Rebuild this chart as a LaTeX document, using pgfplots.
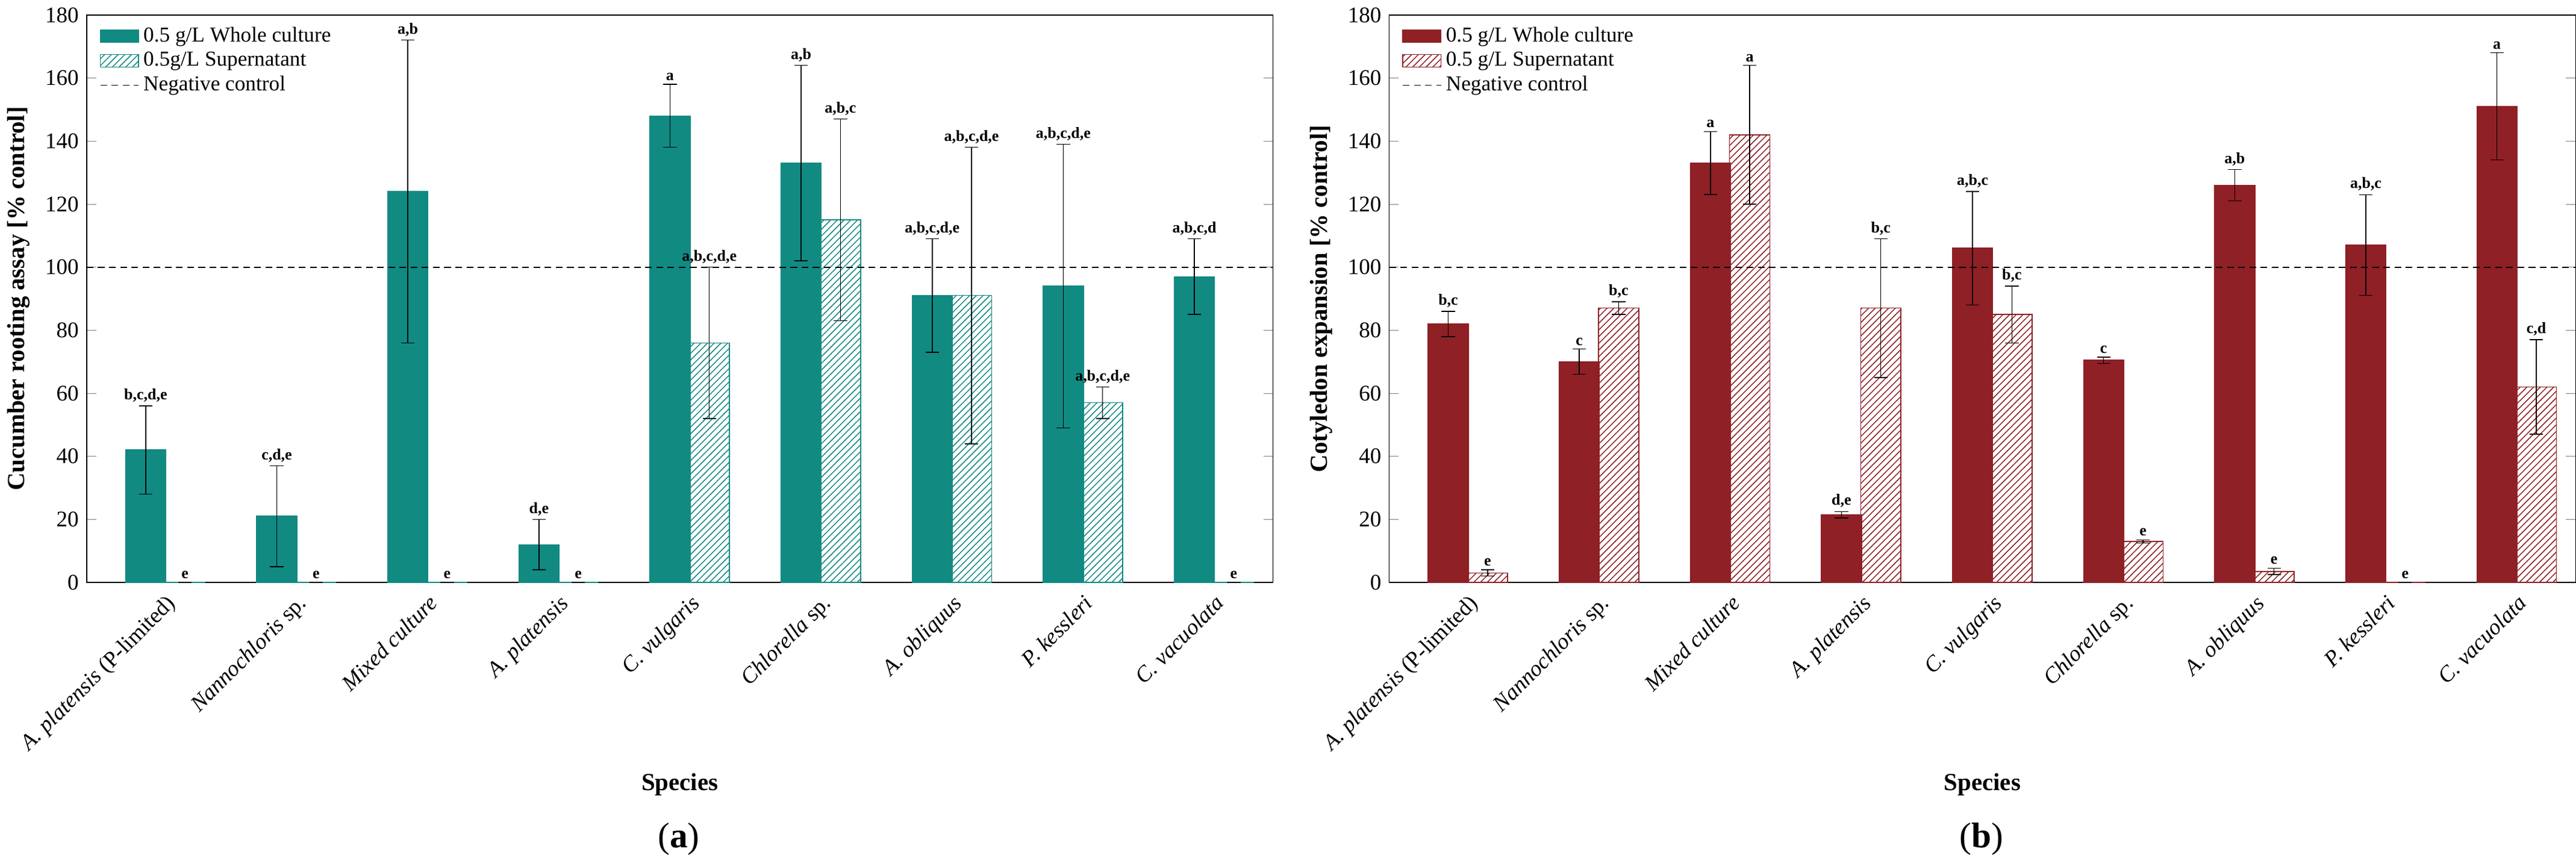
\documentclass[border=0pt]{standalone}
\usepackage{pgfplots}
\pgfplotsset{compat=1.18}
\usepackage{pgfplotstable}
\usetikzlibrary{patterns}
\usepackage{fontspec}
\setmainfont{Liberation Serif}
\definecolor{teal1}{RGB}{17,138,130}
\definecolor{dred}{RGB}{142,32,38}
\pgfplotstableread{
x y e top lab
-0.15 42 14 56 b,c,d,e
0.85 21 16 37 c,d,e
1.85 124 48 172 a,b
2.85 12 8 20 d,e
3.85 148 10 158 a
4.85 133 31 164 a,b
5.85 91 18 109 a,b,c,d,e
6.85 94 45 139 a,b,c,d,e
7.85 97 12 109 a,b,c,d
}\LW
\pgfplotstableread{
x y e top lab
0.15 0 0 0 e
1.15 0 0 0 e
2.15 0 0 0 e
3.15 0 0 0 e
4.15 76 24 100 a,b,c,d,e
5.15 115 32 147 a,b,c
6.15 91 47 138 a,b,c,d,e
7.15 57 5 62 a,b,c,d,e
8.15 0 0 0 e
}\LS
\pgfplotstableread{
x y e top lab
-0.15 82 4 86 b,c
0.85 70 4 74 c
1.85 133 10 143 a
2.85 21.5 1 22.5 d,e
3.85 106 18 124 a,b,c
4.85 70.5 1 71.5 c
5.85 126 5 131 a,b
6.85 107 16 123 a,b,c
7.85 151 17 168 a
}\RW
\pgfplotstableread{
x y e top lab
0.15 3 1 4 e
1.15 87 2 89 b,c
2.15 142 22 164 a
3.15 87 22 109 b,c
4.15 85 9 94 b,c
5.15 13 0.5 13.5 e
6.15 3.5 1 4.5 e
7.15 0 0 0 e
8.15 62 15 77 c,d
}\RS
\pgfplotsset{
 myax/.style={width=531pt,height=254pt,scale only axis,
  ymin=0,ymax=180,ytick={0,20,...,180},xmin=-0.6,xmax=8.45,
  xtick={0,...,8},
  xticklabels={{\itshape A. platensis \textup{(P-limited)}},{\itshape Nannochloris \textup{sp.}},{\itshape Mixed culture},{\itshape A. platensis},{\itshape C. vulgaris},{\itshape Chlorella \textup{sp.}},{\itshape A. obliquus},{\itshape P. kessleri},{\itshape C. vacuolata}},
  xticklabel style={rotate=45,anchor=north east,font=\fontsize{10}{12}\selectfont},
  yticklabel style={font=\fontsize{10}{12}\selectfont},
  /pgf/number format/assume math mode=true,
  tick align=inside, xtick style={draw=none},
  xlabel={\textbf{Species}}, label style={font=\fontsize{11}{13}\selectfont},
  legend style={at={(0.005,0.995)},anchor=north west,draw=none,fill=none,font=\fontsize{9.5}{11}\selectfont,row sep=-1pt},
  legend cell align=left,
  bar width=18pt, bar shift=0pt,
 },
 eb/.style={area legend,error bars/.cd,y dir=both,y explicit,error bar style={black,line width=0.4pt},error mark options={rotate=90,mark size=3pt,black}},
 lab/.style={only marks,mark=none,nodes near coords,point meta=explicit symbolic,
   nodes near coords style={font=\bfseries\fontsize{7}{8}\selectfont,anchor=south,inner sep=1.5pt},forget plot},
 nc/.style={black,densely dashed,line width=0.5pt},
}
\begin{document}
\begin{tikzpicture}
\begin{axis}[myax,ylabel={\textbf{Cucumber rooting assay [\% control]}}]
\addplot[ybar,fill=teal1,draw=teal1,eb] table[x=x,y=y,y error=e]{\LW};
\addlegendentry{0.5 g/L Whole culture}
\addplot[ybar,draw=teal1,pattern=north east lines,pattern color=teal1,eb] table[x=x,y=y,y error=e]{\LS};
\addlegendentry{0.5g/L Supernatant}
\addplot[nc] coordinates {(-0.6,100)(8.45,100)};
\addlegendentry{Negative control}
\addplot[lab] table[x=x,y=top,meta=lab]{\LW};
\addplot[lab] table[x=x,y=top,meta=lab]{\LS};
\end{axis}
\node[font=\fontsize{16}{18}\selectfont] at (265pt,-115pt) {(\textbf{a})};
\begin{scope}[xshift=583pt]
\begin{axis}[myax,ylabel={\textbf{Cotyledon expansion [\% control]}}]
\addplot[ybar,fill=dred,draw=dred,eb] table[x=x,y=y,y error=e]{\RW};
\addlegendentry{0.5 g/L Whole culture}
\addplot[ybar,draw=dred,pattern=north east lines,pattern color=dred,eb] table[x=x,y=y,y error=e]{\RS};
\addlegendentry{0.5 g/L Supernatant}
\addplot[nc] coordinates {(-0.6,100)(8.45,100)};
\addlegendentry{Negative control}
\addplot[lab] table[x=x,y=top,meta=lab]{\RW};
\addplot[lab] table[x=x,y=top,meta=lab]{\RS};
\end{axis}
\node[font=\fontsize{16}{18}\selectfont] at (265pt,-115pt) {(\textbf{b})};
\end{scope}
\end{tikzpicture}
\end{document}
